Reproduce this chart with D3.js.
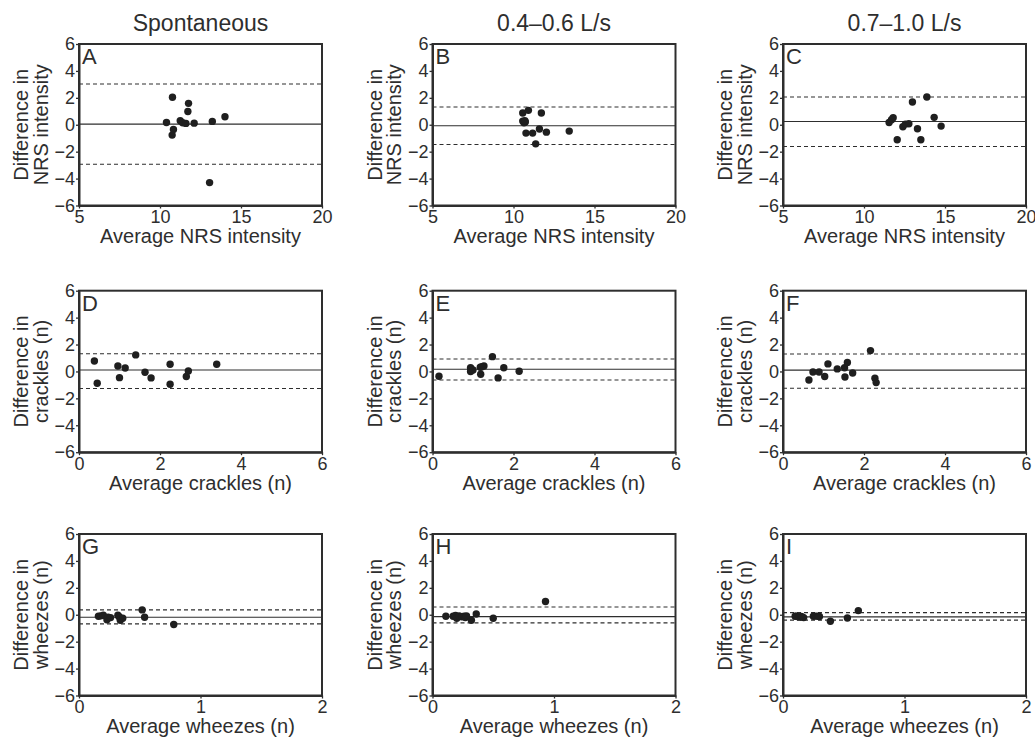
<!DOCTYPE html>
<html>
<head>
<meta charset="utf-8">
<script src="https://cdn.jsdelivr.net/npm/d3@7"></script>
<style>
  html, body { margin: 0; padding: 0; background: #fff; }
  svg { display: block; font-family: "Liberation Sans", Arial, Helvetica, sans-serif; }
</style>
</head>
<body>
<svg id="chart" width="1035" height="738"></svg>
<script>
// Column headers, panel letters and axis text
const columnTitles = ["Spontaneous", "0.4\u20130.6 L/s", "0.7\u20131.0 L/s"];
const panelLetters = ["A", "B", "C", "D", "E", "F", "G", "H", "I"];
const rowXLabels = ["Average NRS intensity", "Average crackles (n)", "Average wheezes (n)"];
const rowYLabels = [
  ["Difference in", "NRS intensity"],
  ["Difference in", "crackles (n)"],
  ["Difference in", "wheezes (n)"]
];
const rowXDomains = [[5, 20], [0, 6], [0, 2]];
const rowXTicks = [[5, 10, 15, 20], [0, 2, 4, 6], [0, 1, 2]];
const yDomain = [-6, 6];
const yTicks = [-6, -4, -2, 0, 2, 4, 6];

// Bland–Altman points: average of the two measurements vs their difference
const avgA = [10.77, 11.76, 11.72, 10.40, 11.25, 11.40, 11.60, 12.11, 13.23, 14.01, 10.83, 10.75, 13.06];
const diffA = [2.04, 1.59, 0.99, 0.17, 0.30, 0.15, 0.10, 0.12, 0.25, 0.60, -0.35, -0.77, -4.30];
const avgB = [10.57, 10.92, 11.72, 10.57, 10.73, 10.65, 10.70, 10.77, 11.18, 11.60, 12.03, 13.44, 11.37];
const diffB = [0.87, 1.07, 0.87, 0.27, 0.20, 0.15, 0.30, -0.62, -0.62, -0.32, -0.55, -0.47, -1.42];
const avgC = [13.88, 12.99, 11.80, 11.70, 11.55, 14.33, 14.76, 12.40, 12.56, 12.77, 13.30, 12.05, 13.51];
const diffC = [2.06, 1.69, 0.52, 0.37, 0.17, 0.55, -0.10, -0.15, 0.05, 0.07, -0.30, -1.12, -1.12];
const avgD = [0.38, 0.45, 0.96, 1.14, 1.00, 1.40, 1.63, 1.78, 2.25, 2.25, 2.65, 2.70, 3.40];
const diffD = [0.78, -0.88, 0.41, 0.26, -0.46, 1.23, -0.06, -0.48, 0.53, -0.95, -0.38, 0.04, 0.53];
const avgE = [0.16, 0.94, 0.94, 1.00, 0.95, 1.18, 1.27, 1.22, 1.19, 1.48, 1.62, 1.76, 2.14];
const diffE = [-0.36, 0.28, -0.01, 0.11, 0.15, 0.31, 0.41, 0.35, -0.21, 1.10, -0.48, 0.28, 0.01];
const avgF = [0.64, 0.74, 0.89, 1.03, 1.11, 1.34, 1.52, 1.59, 1.53, 1.72, 2.16, 2.27, 2.30];
const diffF = [-0.63, -0.04, -0.04, -0.38, 0.56, 0.19, 0.28, 0.66, -0.41, -0.11, 1.55, -0.51, -0.83];
const avgG = [0.16, 0.18, 0.20, 0.23, 0.24, 0.26, 0.32, 0.33, 0.34, 0.36, 0.52, 0.54, 0.78];
const diffG = [-0.11, -0.08, -0.04, -0.38, -0.19, -0.21, -0.04, -0.15, -0.41, -0.26, 0.36, -0.19, -0.73];
const avgH = [0.11, 0.17, 0.19, 0.20, 0.22, 0.24, 0.26, 0.27, 0.28, 0.32, 0.36, 0.50, 0.93];
const diffH = [-0.11, -0.11, -0.05, -0.26, -0.09, -0.15, -0.11, -0.20, -0.09, -0.41, 0.06, -0.26, 0.98];
const avgI = [0.10, 0.11, 0.13, 0.15, 0.16, 0.17, 0.25, 0.27, 0.29, 0.30, 0.39, 0.53, 0.62];
const diffI = [-0.11, -0.10, -0.16, -0.12, -0.18, -0.21, -0.11, -0.10, -0.11, -0.13, -0.48, -0.24, 0.31];

// Mean difference (bias) and upper / lower limits of agreement, panels A–I
const bias = [0.05, -0.07, 0.24, 0.11, 0.16, 0.10, -0.19, -0.14, -0.16];
const upperLoA = [3.03, 1.32, 2.06, 1.32, 0.93, 1.30, 0.36, 0.58, 0.16];
const lowerLoA = [-2.93, -1.47, -1.62, -1.27, -0.63, -1.25, -0.68, -0.60, -0.40];

const panelAvg = [avgA, avgB, avgC, avgD, avgE, avgF, avgG, avgH, avgI];
const panelDiff = [diffA, diffB, diffC, diffD, diffE, diffF, diffG, diffH, diffI];

// Grid geometry
const colX = [79, 432.5, 783];
const rowY = [44, 290.7, 534];
const plotW = 243;
const plotH = 161.5;
const ink = "#2e2e2e";

const svg = d3.select("#chart");
svg.append("rect").attr("width", 1035).attr("height", 738).attr("fill", "#fff");

// Column headers
columnTitles.forEach((t, c) => {
  svg.append("text")
    .attr("x", colX[c] + plotW / 2)
    .attr("y", 30.7)
    .attr("text-anchor", "middle")
    .attr("font-size", 23)
    .attr("fill", ink)
    .text(t);
});

for (let r = 0; r < 3; r++) {
  for (let c = 0; c < 3; c++) {
    const i = r * 3 + c;
    const x0 = colX[c], y0 = rowY[r];
    const g = svg.append("g").attr("transform", `translate(${x0},${y0})`);

    const x = d3.scaleLinear().domain(rowXDomains[r]).range([0, plotW]);
    const y = d3.scaleLinear().domain(yDomain).range([plotH, 0]);

    // Frame around the plotting area
    g.append("rect")
      .attr("x", 0).attr("y", 0)
      .attr("width", plotW).attr("height", plotH)
      .attr("fill", "none")
      .attr("stroke", ink)
      .attr("stroke-width", 2);

    // Limits of agreement (dashed) and bias (solid)
    [upperLoA[i], lowerLoA[i]].forEach(v => {
      g.append("line")
        .attr("x1", 0).attr("x2", plotW)
        .attr("y1", y(v)).attr("y2", y(v))
        .attr("stroke", ink)
        .attr("stroke-width", 1.1)
        .attr("stroke-dasharray", "4,3");
    });
    g.append("line")
      .attr("x1", 0).attr("x2", plotW)
      .attr("y1", y(bias[i])).attr("y2", y(bias[i]))
      .attr("stroke", ink)
      .attr("stroke-width", 1.1);

    // Points
    const pts = panelAvg[i].map((a, k) => ({ a, d: panelDiff[i][k] }));
    g.selectAll("circle.pt").data(pts).enter().append("circle")
      .attr("class", "pt")
      .attr("cx", p => x(p.a))
      .attr("cy", p => y(p.d))
      .attr("r", 3.7)
      .attr("fill", "#1f1f1f");

    // Axes
    const fmt = d3.format("d");
    const xAxis = d3.axisBottom(x).tickValues(rowXTicks[r]).tickFormat(fmt)
      .tickSize(3).tickSizeOuter(0).tickPadding(2);
    const yAxis = d3.axisLeft(y).tickValues(yTicks).tickFormat(fmt)
      .tickSize(3).tickSizeOuter(0).tickPadding(1);

    const gx = g.append("g").attr("transform", `translate(0,${plotH})`).call(xAxis);
    const gy = g.append("g").call(yAxis);
    [gx, gy].forEach(ax => {
      ax.select(".domain").attr("stroke", ink).attr("stroke-width", 2);
      ax.selectAll(".tick line").attr("stroke", ink).attr("stroke-width", 1.3);
      ax.selectAll(".tick text")
        .attr("fill", ink)
        .attr("font-size", 18)
        .attr("font-family", "Liberation Sans, Arial, sans-serif");
    });

    // Panel letter
    g.append("text")
      .attr("x", 3).attr("y", 20)
      .attr("font-size", 22)
      .attr("fill", ink)
      .text(panelLetters[i]);

    // X axis title
    g.append("text")
      .attr("x", plotW / 2)
      .attr("y", plotH + 37.7)
      .attr("text-anchor", "middle")
      .attr("font-size", 20)
      .attr("fill", ink)
      .text(rowXLabels[r]);

    // Y axis title, two lines
    const offsets = [-50.7, -31.5];
    rowYLabels[r].forEach((line, k) => {
      g.append("text")
        .attr("transform", `translate(${offsets[k]},${plotH / 2}) rotate(-90)`)
        .attr("text-anchor", "middle")
        .attr("font-size", 20)
        .attr("fill", ink)
        .text(line);
    });
  }
}
</script>
</body>
</html>
